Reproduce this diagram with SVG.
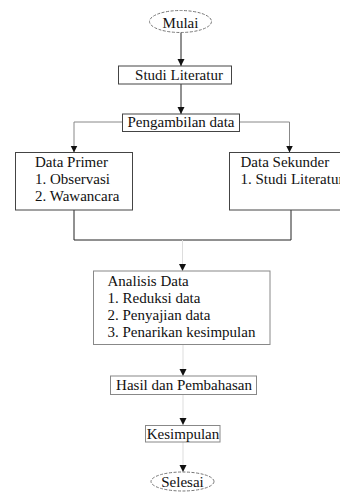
<svg xmlns="http://www.w3.org/2000/svg" width="340" height="492" viewBox="0 0 340 492">
<defs>
<style>
text{font-family:"Liberation Serif","Times New Roman",serif;font-size:15px;fill:#111}
.box{fill:#fff;stroke:#444;stroke-width:1}
.boxl{fill:#fff;stroke:#888;stroke-width:1}
.term{fill:#fff;stroke:#777;stroke-width:1;stroke-dasharray:3 1.5}
.dk{fill:none;stroke:#222;stroke-width:1}
.md{fill:none;stroke:#888;stroke-width:1}
.lt{fill:none;stroke:#ddd;stroke-width:1}
</style>
<marker id="ah" viewBox="0 0 10 10" refX="10" refY="5" markerWidth="7" markerHeight="8" markerUnits="userSpaceOnUse" orient="auto">
<path d="M0,0 L10,5 L0,10 z" fill="#111"/>
</marker>
</defs>
<rect width="340" height="492" fill="#fff"/>
<g id="connectors">
<line class="dk" x1="181" y1="32.5" x2="181" y2="66" marker-end="url(#ah)"/>
<line class="dk" x1="181" y1="84" x2="181" y2="114" marker-end="url(#ah)"/>
<polyline class="md" points="122.5,122 74,122 74,152.5" marker-end="url(#ah)"/>
<polyline class="md" points="239.5,122 289.5,122 289.5,152.5" marker-end="url(#ah)"/>
<polyline class="dk" points="74,210 74,240 291,240 291,210"/>
<line class="lt" x1="182.5" y1="240" x2="182.5" y2="271" marker-end="url(#ah)"/>
<line class="lt" x1="183" y1="344.5" x2="183" y2="376" marker-end="url(#ah)"/>
<line class="lt" x1="183" y1="394.5" x2="183" y2="425" marker-end="url(#ah)"/>
<line class="lt" x1="183" y1="442" x2="183" y2="472" marker-end="url(#ah)"/>
</g>
<g id="mulai">
<ellipse class="term" cx="180.5" cy="21.5" rx="31" ry="11"/>
<text x="180.5" y="28" text-anchor="middle">Mulai</text>
</g>
<g id="studi-literatur">
<rect class="box" x="118.5" y="66" width="113" height="18"/>
<text x="179" y="80" text-anchor="middle">Studi Literatur</text>
</g>
<g id="pengambilan-data">
<rect class="box" x="122.5" y="114" width="117" height="17.5"/>
<text x="181" y="127" text-anchor="middle">Pengambilan data</text>
</g>
<g id="data-primer">
<rect class="box" x="15.5" y="152.5" width="117" height="57.5"/>
<text x="35" y="167">Data Primer</text>
<text x="35" y="184">1. Observasi</text>
<text x="35" y="201">2. Wawancara</text>
</g>
<g id="data-sekunder">
<rect class="box" x="229.5" y="152.5" width="122" height="57.5"/>
<text x="240.5" y="167">Data Sekunder</text>
<text x="240.5" y="184">1. Studi Literatur</text>
</g>
<g id="analisis-data">
<rect class="boxl" x="93.5" y="271" width="176.5" height="73.5"/>
<text x="107.5" y="285.5">Analisis Data</text>
<text x="107.5" y="302.5">1. Reduksi data</text>
<text x="107.5" y="319.5">2. Penyajian data</text>
<text x="107.5" y="336.5">3. Penarikan kesimpulan</text>
</g>
<g id="hasil-pembahasan">
<rect class="boxl" x="110.5" y="376" width="146" height="18.5"/>
<text x="184" y="390" text-anchor="middle">Hasil dan Pembahasan</text>
</g>
<g id="kesimpulan">
<rect class="boxl" x="145.5" y="425.5" width="74.5" height="16.5"/>
<text x="183" y="438.5" text-anchor="middle">Kesimpulan</text>
</g>
<g id="selesai">
<ellipse class="term" cx="182.5" cy="481.5" rx="31.5" ry="9.5"/>
<text x="182.5" y="487" text-anchor="middle">Selesai</text>
</g>
</svg>
